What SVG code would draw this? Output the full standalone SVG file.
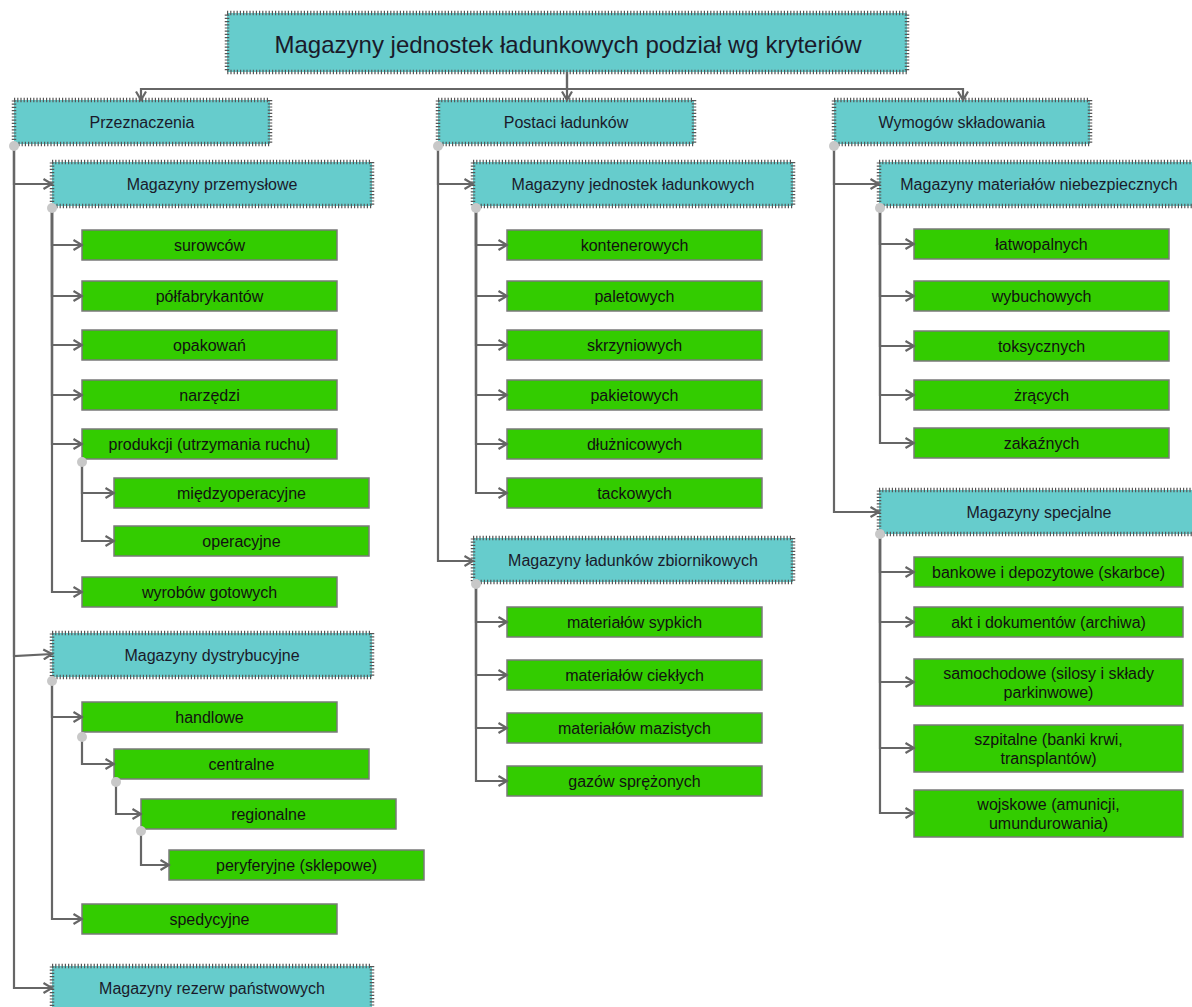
<svg xmlns="http://www.w3.org/2000/svg" width="1192" height="1007" viewBox="0 0 1192 1007">
<style>
.t rect{fill:#66CCCC;stroke:#555;stroke-width:4.5;stroke-dasharray:1.2 2}
.g rect{fill:#33CC00;stroke:#7a7a7a;stroke-width:1.5}
text{font-family:"Liberation Sans",Arial,sans-serif;font-size:16px;text-anchor:middle;dominant-baseline:central;fill:#111}
.t text{fill:#1a1a2a}
#title text{font-size:24px}
.c path{fill:none;stroke:#666;stroke-width:2.2;marker-end:url(#arr)}
.c circle{fill:#c8c8c8}
</style>
<defs>
<marker id="arr" viewBox="0 0 12 12" refX="10.5" refY="6" markerWidth="12" markerHeight="12" markerUnits="userSpaceOnUse" orient="auto">
<path d="M2,1 L10.5,6 L2,11" fill="none" stroke="#666" stroke-width="2.2"/>
</marker>
</defs>
<rect width="1192" height="1007" fill="#fff"/>
<g id="nodes">
<g id="title" class="t"><rect x="227" y="13" width="680" height="59"/><text x="568" y="44">Magazyny jednostek ładunkowych podział wg kryteriów</text></g>
<g id="przeznaczenia" class="t"><rect x="14" y="100" width="256" height="44"/><text x="142" y="122">Przeznaczenia</text></g>
<g id="postaci" class="t"><rect x="438" y="100" width="256" height="44"/><text x="566" y="122">Postaci ładunków</text></g>
<g id="wymogow" class="t"><rect x="834" y="100" width="256" height="44"/><text x="962" y="122">Wymogów składowania</text></g>
<g id="przemyslowe" class="t"><rect x="52" y="162" width="320" height="44"/><text x="212" y="184">Magazyny przemysłowe</text></g>
<g id="dystrybucyjne" class="t"><rect x="52" y="633" width="320" height="44"/><text x="212" y="655">Magazyny dystrybucyjne</text></g>
<g id="rezerw" class="t"><rect x="52" y="966" width="320" height="44"/><text x="212" y="988">Magazyny rezerw państwowych</text></g>
<g id="jednostek" class="t"><rect x="473" y="162" width="320" height="44"/><text x="633" y="184">Magazyny jednostek ładunkowych</text></g>
<g id="zbiornikowych" class="t"><rect x="473" y="538" width="320" height="44"/><text x="633" y="560">Magazyny ładunków zbiornikowych</text></g>
<g id="niebezpiecznych" class="t"><rect x="879" y="162" width="320" height="44"/><text x="1039" y="184">Magazyny materiałów niebezpiecznych</text></g>
<g id="specjalne" class="t"><rect x="879" y="490" width="320" height="44"/><text x="1039" y="512">Magazyny specjalne</text></g>

<g id="surowcow" class="g"><rect x="82" y="230" width="255" height="30"/><text x="209.5" y="245">surowców</text></g>
<g id="polfabrykantow" class="g"><rect x="82" y="281" width="255" height="30"/><text x="209.5" y="296">półfabrykantów</text></g>
<g id="opakowan" class="g"><rect x="82" y="330" width="255" height="30"/><text x="209.5" y="345">opakowań</text></g>
<g id="narzedzi" class="g"><rect x="82" y="380" width="255" height="30"/><text x="209.5" y="395">narzędzi</text></g>
<g id="produkcji" class="g"><rect x="82" y="429" width="255" height="30"/><text x="209.5" y="444">produkcji (utrzymania ruchu)</text></g>
<g id="miedzyoperacyjne" class="g"><rect x="114" y="478" width="255" height="30"/><text x="241.5" y="493">międzyoperacyjne</text></g>
<g id="operacyjne" class="g"><rect x="114" y="526" width="255" height="30"/><text x="241.5" y="541">operacyjne</text></g>
<g id="wyrobow" class="g"><rect x="82" y="577" width="255" height="30"/><text x="209.5" y="592">wyrobów gotowych</text></g>
<g id="handlowe" class="g"><rect x="82" y="702" width="255" height="30"/><text x="209.5" y="717">handlowe</text></g>
<g id="centralne" class="g"><rect x="114" y="749" width="255" height="30"/><text x="241.5" y="764">centralne</text></g>
<g id="regionalne" class="g"><rect x="141" y="799" width="255" height="30"/><text x="268.5" y="814">regionalne</text></g>
<g id="peryferyjne" class="g"><rect x="169" y="850" width="255" height="30"/><text x="296.5" y="865">peryferyjne (sklepowe)</text></g>
<g id="spedycyjne" class="g"><rect x="82" y="904" width="255" height="30"/><text x="209.5" y="919">spedycyjne</text></g>

<g id="kontenerowych" class="g"><rect x="507" y="230" width="255" height="30"/><text x="634.5" y="245">kontenerowych</text></g>
<g id="paletowych" class="g"><rect x="507" y="281" width="255" height="30"/><text x="634.5" y="296">paletowych</text></g>
<g id="skrzyniowych" class="g"><rect x="507" y="330" width="255" height="30"/><text x="634.5" y="345">skrzyniowych</text></g>
<g id="pakietowych" class="g"><rect x="507" y="380" width="255" height="30"/><text x="634.5" y="395">pakietowych</text></g>
<g id="dluznicowych" class="g"><rect x="507" y="429" width="255" height="30"/><text x="634.5" y="444">dłużnicowych</text></g>
<g id="tackowych" class="g"><rect x="507" y="478" width="255" height="30"/><text x="634.5" y="493">tackowych</text></g>
<g id="sypkich" class="g"><rect x="507" y="607" width="255" height="30"/><text x="634.5" y="622">materiałów sypkich</text></g>
<g id="cieklych" class="g"><rect x="507" y="660" width="255" height="30"/><text x="634.5" y="675">materiałów ciekłych</text></g>
<g id="mazistych" class="g"><rect x="507" y="713" width="255" height="30"/><text x="634.5" y="728">materiałów mazistych</text></g>
<g id="gazow" class="g"><rect x="507" y="766" width="255" height="30"/><text x="634.5" y="781">gazów sprężonych</text></g>

<g id="latwopalnych" class="g"><rect x="914" y="229" width="255" height="30"/><text x="1041.5" y="244">łatwopalnych</text></g>
<g id="wybuchowych" class="g"><rect x="914" y="281" width="255" height="30"/><text x="1041.5" y="296">wybuchowych</text></g>
<g id="toksycznych" class="g"><rect x="914" y="331" width="255" height="30"/><text x="1041.5" y="346">toksycznych</text></g>
<g id="zracych" class="g"><rect x="914" y="380" width="255" height="30"/><text x="1041.5" y="395">żrących</text></g>
<g id="zakaznych" class="g"><rect x="914" y="428" width="255" height="30"/><text x="1041.5" y="443">zakaźnych</text></g>
<g id="bankowe" class="g"><rect x="914" y="557" width="269" height="30"/><text x="1048.5" y="572">bankowe i depozytowe (skarbce)</text></g>
<g id="akt" class="g"><rect x="914" y="607" width="269" height="30"/><text x="1048.5" y="622">akt i dokumentów (archiwa)</text></g>
<g id="samochodowe" class="g"><rect x="914" y="659" width="269" height="47"/><text x="1048.5" y="673">samochodowe (silosy i składy</text><text x="1048.5" y="692">parkinwowe)</text></g>
<g id="szpitalne" class="g"><rect x="914" y="725" width="269" height="47"/><text x="1048.5" y="739">szpitalne (banki krwi,</text><text x="1048.5" y="758">transplantów)</text></g>
<g id="wojskowe" class="g"><rect x="914" y="790" width="269" height="47"/><text x="1048.5" y="804">wojskowe (amunicji,</text><text x="1048.5" y="823">umundurowania)</text></g>
</g>

<g id="connectors" class="c">
<path d="M567,72 V89 H141 V100"/>
<path d="M567,72 V100"/>
<path d="M567,89 H963 V100"/>

<path d="M14,147 V184 H52"/>
<path d="M14,147 V656 L52,654"/>
<path d="M14,147 V988 H52"/>
<path d="M52,208 V245 H82"/>
<path d="M52,208 V296 H82"/>
<path d="M52,208 V345 H82"/>
<path d="M52,208 V395 H82"/>
<path d="M52,208 V444 H82"/>
<path d="M52,208 V592 H82"/>
<path d="M82,461 V493 H114"/>
<path d="M82,461 V541 H114"/>
<path d="M52,680 V717 H82"/>
<path d="M52,680 V919 H82"/>
<path d="M82,736 V764 H114"/>
<path d="M116,782 V814 H141"/>
<path d="M141,831 V865 H169"/>

<path d="M438,147 V184 H473"/>
<path d="M438,147 V561 H473"/>
<path d="M476,208 V245 H507"/>
<path d="M476,208 V296 H507"/>
<path d="M476,208 V345 H507"/>
<path d="M476,208 V395 H507"/>
<path d="M476,208 V444 H507"/>
<path d="M476,208 V493 H507"/>
<path d="M476,585 V622 H507"/>
<path d="M476,585 V675 H507"/>
<path d="M476,585 V728 H507"/>
<path d="M476,585 V781 H507"/>

<path d="M834,147 V184 H879"/>
<path d="M834,147 V512 H879"/>
<path d="M880,208 V244 H914"/>
<path d="M880,208 V296 H914"/>
<path d="M880,208 V346 H914"/>
<path d="M880,208 V395 H914"/>
<path d="M880,208 V443 H914"/>
<path d="M880,535 V572 H914"/>
<path d="M880,535 V622 H914"/>
<path d="M880,535 V682 H914"/>
<path d="M880,535 V748 H914"/>
<path d="M880,535 V813 H914"/>

<circle cx="14" cy="146" r="5"/>
<circle cx="438" cy="146" r="5"/>
<circle cx="834" cy="146" r="5"/>
<circle cx="52" cy="208" r="5"/>
<circle cx="476" cy="208" r="5"/>
<circle cx="880" cy="208" r="5"/>
<circle cx="82" cy="462" r="5"/>
<circle cx="52" cy="681" r="5"/>
<circle cx="82" cy="737" r="5"/>
<circle cx="116" cy="782" r="5"/>
<circle cx="141" cy="831" r="5"/>
<circle cx="476" cy="584" r="5"/>
<circle cx="880" cy="534" r="5"/>
</g>
</svg>
